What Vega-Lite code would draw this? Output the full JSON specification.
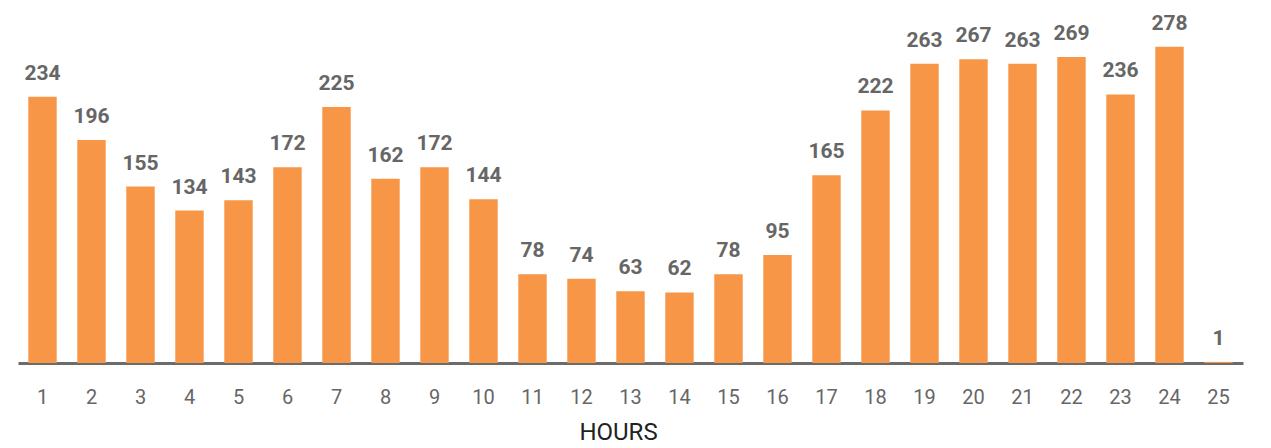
{
  "$schema": "https://vega.github.io/schema/vega-lite/v6.json",
  "autosize": "none",
  "width": 1225,
  "height": 363,
  "padding": {"left": 18, "top": 0, "right": 28, "bottom": 85},
  "background": "white",
  "config": {"view": {"stroke": null}, "font": "Roboto"},
  "data": {"values": [
    {"hour": 1, "count": 234}, {"hour": 2, "count": 196}, {"hour": 3, "count": 155},
    {"hour": 4, "count": 134}, {"hour": 5, "count": 143}, {"hour": 6, "count": 172},
    {"hour": 7, "count": 225}, {"hour": 8, "count": 162}, {"hour": 9, "count": 172},
    {"hour": 10, "count": 144}, {"hour": 11, "count": 78}, {"hour": 12, "count": 74},
    {"hour": 13, "count": 63}, {"hour": 14, "count": 62}, {"hour": 15, "count": 78},
    {"hour": 16, "count": 95}, {"hour": 17, "count": 165}, {"hour": 18, "count": 222},
    {"hour": 19, "count": 263}, {"hour": 20, "count": 267}, {"hour": 21, "count": 263},
    {"hour": 22, "count": 269}, {"hour": 23, "count": 236}, {"hour": 24, "count": 278},
    {"hour": 25, "count": 1}
  ]},
  "encoding": {
    "x": {
      "field": "hour", "type": "ordinal", "title": "HOURS",
      "scale": {"paddingInner": 0.42, "paddingOuter": 0.21},
      "axis": {
        "labelAngle": 0, "labelFont": "Roboto", "labelFontSize": 20, "labelColor": "#666666",
        "labelPadding": 24, "ticks": false, "domainColor": "#6b6b6b", "domainWidth": 3,
        "titleFont": "Roboto", "titleFontSize": 24, "titleFontWeight": "normal", "titleColor": "#222222",
        "titlePadding": 13, "titleX": 600, "titleAnchor": "middle"
      }
    },
    "y": {
      "field": "count", "type": "quantitative",
      "scale": {"domain": [0, 319], "nice": false},
      "axis": null
    }
  },
  "layer": [
    {"mark": {"type": "bar", "color": "#F79646"}},
    {"mark": {"type": "text", "baseline": "bottom", "dy": -13, "font": "Roboto", "fontSize": 21, "fontWeight": "bold", "color": "#666666"},
     "encoding": {"text": {"field": "count", "type": "quantitative"}}}
  ]
}
